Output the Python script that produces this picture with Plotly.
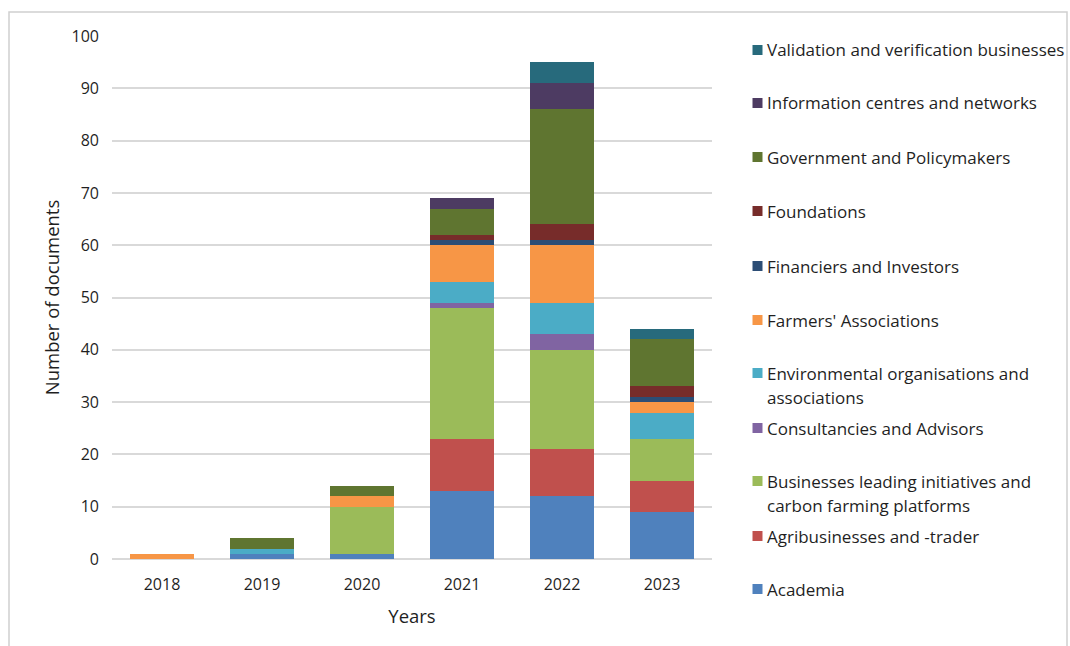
import plotly.graph_objects as go

# Stacked counts of documents per stakeholder group and year
years = ["2018", "2019", "2020", "2021", "2022", "2023"]

academia = [0, 1, 1, 13, 12, 9]
agribusinesses = [0, 0, 0, 10, 9, 6]
businesses_platforms = [0, 0, 9, 25, 19, 8]
consultancies = [0, 0, 0, 1, 3, 0]
environmental_orgs = [0, 1, 0, 4, 6, 5]
farmers_associations = [1, 0, 2, 7, 11, 2]
financiers = [0, 0, 0, 1, 1, 1]
foundations = [0, 0, 0, 1, 3, 2]
government = [0, 2, 2, 5, 22, 9]
information_centres = [0, 0, 0, 2, 5, 0]
validation = [0, 0, 0, 0, 4, 2]

series_names = [
    "Academia",
    "Agribusinesses and -trader",
    "Businesses leading initiatives and<br>carbon farming platforms",
    "Consultancies and Advisors",
    "Environmental organisations and<br>associations",
    "Farmers' Associations",
    "Financiers and Investors",
    "Foundations",
    "Government and Policymakers",
    "Information centres and networks",
    "Validation and verification businesses",
]
series_values = [
    academia, agribusinesses, businesses_platforms, consultancies,
    environmental_orgs, farmers_associations, financiers, foundations,
    government, information_centres, validation,
]
series_colors = [
    "#4F81BD", "#C0504D", "#9BBB59", "#8064A2", "#4BACC6", "#F79646",
    "#2C4D75", "#772C2A", "#5F7530", "#4D3B62", "#276A7C",
]

y_ticks = [0, 10, 20, 30, 40, 50, 60, 70, 80, 90, 100]

FONT = "Open Sans"
TEXT = "#1f1f1f"

# Pixel geometry of the figure
W, H = 1070, 646
PL, PR, PT, PB = 112, 712, 36, 559   # plot area edges


def px_x(p):
    return (p - PL) / (PR - PL)


def px_y(p):
    return (PB - p) / (PB - PT)


fig = go.Figure()
for name, vals, col in zip(series_names, series_values, series_colors):
    fig.add_trace(go.Bar(
        x=years, y=vals, name=name.replace("<br>", " "),
        marker=dict(color=col, line=dict(width=0)),
        width=0.64, showlegend=False,
        hovertemplate="%{x}: %{y}<extra>" + name.replace("<br>", " ") + "</extra>",
    ))

# Legend drawn beside the plot: one swatch and label per series, top to bottom
legend_rows_px = [589, 536, 481, 428, 373, 320, 266, 211, 157, 103, 50]
shapes = []
annotations = []
for name, col, yc in zip(series_names, series_colors, legend_rows_px):
    shapes.append(dict(
        type="rect", xref="paper", yref="paper",
        x0=px_x(752.5), x1=px_x(762.5), y0=px_y(yc + 5), y1=px_y(yc - 5),
        fillcolor=col, line=dict(width=0),
    ))
    for i, line in enumerate(name.split("<br>")):
        annotations.append(dict(
            xref="paper", yref="paper", x=px_x(764.5), y=px_y(yc + 24 * i),
            xanchor="left", yanchor="middle", text=line, showarrow=False,
            font=dict(family=FONT, size=17, color=TEXT),
        ))

# Outer frame around the chart
shapes.append(dict(
    type="rect", xref="paper", yref="paper",
    x0=px_x(9), x1=px_x(1067), y0=px_y(660), y1=px_y(12),
    line=dict(color="#d0d0d0", width=1.5), fillcolor="rgba(0,0,0,0)", layer="below",
))

fig.update_layout(
    width=W, height=H,
    margin=dict(l=PL, r=W - PR, t=PT, b=H - PB, pad=0),
    barmode="stack",
    paper_bgcolor="white", plot_bgcolor="white",
    font=dict(family=FONT, size=16, color=TEXT),
    shapes=shapes, annotations=annotations,
    xaxis=dict(
        type="category", showgrid=False, showline=False, ticks="",
        tickfont=dict(family=FONT, size=16, color=TEXT),
        ticklabelstandoff=14,
        title=dict(text="Years", font=dict(family=FONT, size=18.5, color=TEXT), standoff=16),
    ),
    yaxis=dict(
        range=[0, 100], tickvals=y_ticks, showgrid=True,
        gridcolor="#d9d9d9", gridwidth=1.5, zeroline=True,
        zerolinecolor="#d9d9d9", zerolinewidth=1.5, showline=False, ticks="",
        tickfont=dict(family=FONT, size=16, color=TEXT),
        ticklabelstandoff=12,
        title=dict(text="Number of documents", font=dict(family=FONT, size=18.5, color=TEXT), standoff=7),
    ),
)

fig.write_html("out.html")
